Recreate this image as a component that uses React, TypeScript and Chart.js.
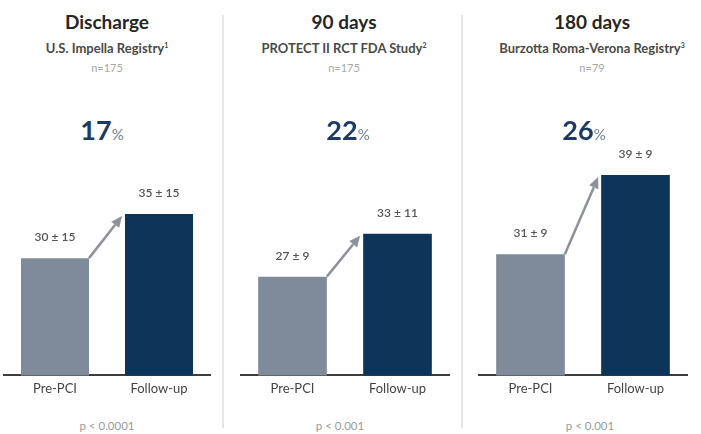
import React, { useEffect, useRef } from "react";
import { Chart, registerables } from "chart.js";

Chart.register(...registerables);

const panelTitles = ["Discharge", "90 days", "180 days"];
const studyNames = ["U.S. Impella Registry", "PROTECT II RCT FDA Study", "Burzotta Roma-Verona Registry"];
const refMarks = ["1", "2", "3"];
const sampleSizes = ["n=175", "n=175", "n=79"];
const improvements = [17, 22, 26];
const categories = ["Pre-PCI", "Follow-up"];
const meanValues = [
  [30, 35],
  [27, 33],
  [31, 39],
];
const sdValues = [
  [15, 15],
  [9, 11],
  [9, 9],
];
const pValues = ["p < 0.0001", "p < 0.001", "p < 0.001"];
const yMins = [16.7, 13.2, 18.75];
const yMaxs = [43.4, 46.1, 42.55];

const FONT = "Lato, 'Open Sans', sans-serif";
const PRE_COLOR = "#7f8b9b";
const POST_COLOR = "#0d355a";

const chartLefts = [3, 240, 478];
const chartWidths = [208, 210, 210];
const headerCenters = [107, 344, 592];
const pctCenters = [102, 348, 584];
const pCenters = [107, 340, 590];

const labelPlugin = {
  id: "valueLabels",
  afterDatasetsDraw(chart: any, _args: any, opts: any) {
    const ctx = chart.ctx;
    const meta = chart.getDatasetMeta(0);
    const idx = opts.panel as number;
    ctx.save();
    // arrow
    const b0 = meta.data[0];
    const b1 = meta.data[1];
    if (b0 && b1) {
      const x0 = b0.x + b0.width / 2;
      const y0 = b0.y;
      const x1 = b1.x - b1.width / 2 - 3;
      const y1 = b1.y + 2;
      const ang = Math.atan2(y1 - y0, x1 - x0);
      const headLen = 11;
      const headW = 5;
      const bx = x1 - headLen * Math.cos(ang);
      const by = y1 - headLen * Math.sin(ang);
      ctx.strokeStyle = "#8d929a";
      ctx.fillStyle = "#8d929a";
      ctx.lineWidth = 2.5;
      ctx.beginPath();
      ctx.moveTo(x0, y0);
      ctx.lineTo(bx, by);
      ctx.stroke();
      ctx.beginPath();
      ctx.moveTo(x1, y1);
      ctx.lineTo(bx + headW * Math.sin(ang), by - headW * Math.cos(ang));
      ctx.lineTo(bx - headW * Math.sin(ang), by + headW * Math.cos(ang));
      ctx.closePath();
      ctx.fill();
    }
    ctx.font = `600 12px ${FONT}`;
    ctx.fillStyle = "#555";
    ctx.textAlign = "center";
    ctx.textBaseline = "middle";
    meta.data.forEach((bar: any, i: number) => {
      ctx.fillText(`${meanValues[idx][i]} ± ${sdValues[idx][i]}`, bar.x, bar.y - 21);
    });
    ctx.restore();
  },
};

function Panel({ idx }: { idx: number }) {
  const ref = useRef<HTMLCanvasElement>(null);
  useEffect(() => {
    if (!ref.current) return;
    const chart = new Chart(ref.current, {
      type: "bar",
      data: {
        labels: categories,
        datasets: [
          {
            data: meanValues[idx],
            backgroundColor: [PRE_COLOR, POST_COLOR],
            borderWidth: 0,
            barPercentage: 0.654,
            categoryPercentage: 1,
          },
        ],
      },
      options: {
        responsive: false,
        animation: false,
        maintainAspectRatio: false,
        layout: { padding: 0 },
        plugins: {
          legend: { display: false },
          tooltip: { enabled: false },
          valueLabels: { panel: idx },
        } as any,
        scales: {
          x: {
            grid: { display: false, drawTicks: false },
            border: { display: true, color: "#3d3d3d", width: 2 },
            ticks: { color: "#444", font: { family: FONT, size: 13 }, padding: 6 },
          },
          y: {
            display: false,
            min: yMins[idx],
            max: yMaxs[idx],
          },
        },
      },
      plugins: [labelPlugin],
    });
    return () => chart.destroy();
  }, [idx]);
  return (
    <canvas
      ref={ref}
      width={chartWidths[idx]}
      height={263}
      style={{ position: "absolute", left: chartLefts[idx], top: 140, width: chartWidths[idx], height: 263 }}
    />
  );
}

function centered(cx: number, top: number, h: number): React.CSSProperties {
  return {
    position: "absolute",
    left: cx - 150,
    width: 300,
    top: top - h / 2,
    height: h,
    lineHeight: `${h}px`,
    textAlign: "center",
    fontFamily: FONT,
    whiteSpace: "nowrap",
  };
}

export default function App() {
  return (
    <div style={{ position: "fixed", left: 0, top: 0, width: 701, height: 434, background: "#fff", overflow: "hidden" }}>
      {[222, 461].map((x) => (
        <div key={x} style={{ position: "absolute", left: x, top: 15, width: 2, height: 413, background: "#e6e6e6" }} />
      ))}
      {[0, 1, 2].map((i) => (
        <React.Fragment key={i}>
          <div style={{ ...centered(headerCenters[i], 22, 24), fontSize: 19, fontWeight: 700, color: "#262626" }}>
            {panelTitles[i]}
          </div>
          <div style={{ ...centered(headerCenters[i], 48, 18), fontSize: 13, fontWeight: 700, color: "#4a4a4a" }}>
            {studyNames[i]}
            <sup style={{ fontSize: 7, verticalAlign: "top", lineHeight: "12px" }}>{refMarks[i]}</sup>
          </div>
          <div style={{ ...centered(headerCenters[i], 68, 14), fontSize: 11, color: "#a8a8a8" }}>{sampleSizes[i]}</div>
          <div style={{ ...centered(pctCenters[i], 130, 32), fontSize: 27, fontWeight: 700, color: "#1e3a63" }}>
            {improvements[i]}
            <span style={{ fontSize: 15, fontWeight: 400, color: "#6f7f95" }}>%</span>
          </div>
          <Panel idx={i} />
          <div style={{ ...centered(pCenters[i], 426, 14), fontSize: 11.5, color: "#9a9a9a" }}>{pValues[i]}</div>
        </React.Fragment>
      ))}
    </div>
  );
}
